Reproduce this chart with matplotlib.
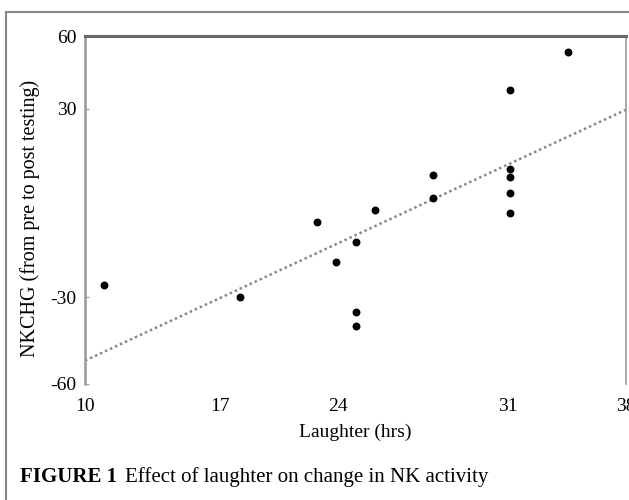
import numpy as np
import matplotlib
matplotlib.use("Agg")
import matplotlib.pyplot as plt
from matplotlib.lines import Line2D

plt.rcParams['font.family'] = ['Liberation Serif', 'DejaVu Serif']

# laughter hours and change in NK activity
laughter = [11, 18, 22, 23, 24, 24, 24, 25, 28, 28, 32, 32, 32, 32, 32, 35]
nkchg = [-26, -30, -4, -18, -11, -35, -40, 0, 12, 4, 14, 11.5, 6, -1, 41.5, 54.5]

# tick labels and where they sit in the printed figure
xtick_labels = ["10", "17", "24", "31", "38"]
xtick_pos = [10, 17, 23.1, 31.9, 38]
ytick_labels = ["60", "30", "-30", "-60"]
ytick_pos = [60, 35, -30, -60]

x = np.array(laughter)
y = np.array(nkchg)
slope, icpt = np.polyfit(x, y, 1)

fig = plt.figure(figsize=(6.29, 5.0), dpi=100)
ax = fig.add_axes([85/629, 1-384/500, 541/629, 348/500])

xx = np.array([10, 38])
ax.plot(xx, icpt + slope*xx, linestyle=(0, (1, 1.2)), color="#888888", lw=1.8)
ax.scatter(x, y, s=22, color="black", zorder=3)

ax.set_xlim(10, 38)
ax.set_ylim(-60, 60)
ax.set_xticks(xtick_pos)
ax.set_xticklabels(xtick_labels)
ax.set_yticks(ytick_pos)
ax.set_yticklabels(ytick_labels)
ax.tick_params(axis="x", length=0, pad=10, labelsize=14)
ax.tick_params(axis="y", length=3, direction="in", pad=6, labelsize=14, color="#999999")

ax.spines["bottom"].set_visible(False)
ax.spines["top"].set_color("#666666")
ax.spines["top"].set_linewidth(2.2)
ax.spines["left"].set_color("#999999")
ax.spines["left"].set_linewidth(1.8)
ax.spines["right"].set_color("#999999")
ax.spines["right"].set_linewidth(1.2)

ax.set_xlabel("Laughter (hrs)", fontsize=14, labelpad=6)
ax.set_ylabel("NKCHG (from pre to post testing)", fontsize=14.5)
ax.yaxis.set_label_coords(-0.083, 0.477)

# outer frame of the figure panel
fig.add_artist(Line2D([6/629, 6/629], [0, 1-12/500], color="#888888", lw=1.5))
fig.add_artist(Line2D([6/629, 1], [1-12/500, 1-12/500], color="#888888", lw=1.5))

cap = fig.text(20/629, 1-477/500, "FIGURE 1", fontsize=15, fontweight="bold", va="center")
ax.annotate("Effect of laughter on change in NK activity", xy=(1, 0.5), xycoords=cap,
            xytext=(6, 0), textcoords="offset points", fontsize=15, va="center")

fig.savefig("out.png", dpi=100)
